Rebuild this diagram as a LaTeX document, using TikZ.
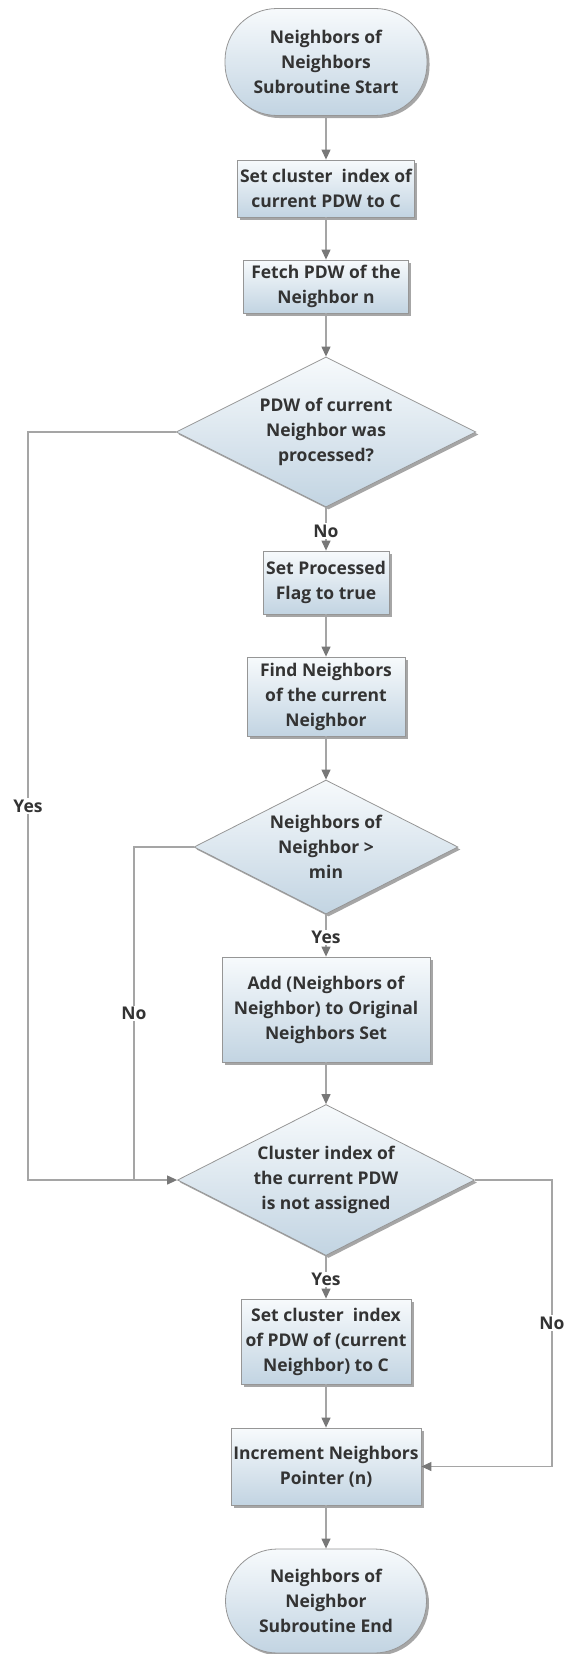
\documentclass[tikz,border=0pt]{standalone}
\usepackage{fontspec}
\setmainfont{Open Sans}
\usetikzlibrary{shapes.geometric,shadows,arrows.meta}
\definecolor{boxtop}{RGB}{247,250,252}
\definecolor{boxbot}{RGB}{194,212,226}
\definecolor{boxline}{RGB}{150,150,150}
\definecolor{flowline}{RGB}{165,165,165}
\definecolor{tipgray}{RGB}{120,120,120}
\definecolor{txt}{RGB}{51,51,51}

\begin{document}
\begin{tikzpicture}[x=1pt,y=-1pt,
    font=\fontsize{17.5}{25}\selectfont\bfseries,
    base/.style={draw=boxline, line width=0.8pt, top color=boxtop, bottom color=boxbot,
      text=txt, align=center, inner sep=0pt,
      drop shadow={shadow xshift=2.5pt, shadow yshift=-2.5pt, opacity=0.35, fill=black}},
    process/.style={base, rectangle},
    terminal/.style={base, rectangle, rounded corners=52pt},
    decision/.style={base, diamond, aspect=2},
    line/.style={draw=flowline, line width=1.2pt},
    flow/.style={line, -{Triangle[length=10pt,width=9pt,color=tipgray]}},
    lbl/.style={fill=white, text=txt, inner sep=1.5pt}]
   \useasboundingbox (0,0) rectangle (566,1654);

   \node[terminal, minimum width=202pt, minimum height=107pt] (start) at (326,62) {Neighbors of\\Neighbors\\Subroutine Start};
   \node[process, minimum width=177pt, minimum height=57pt] (setidx) at (326,188.5) {Set cluster\ \ index of\\current PDW to C};
   \node[process, minimum width=165pt, minimum height=53pt] (fetch) at (326,286.5) {Fetch PDW of the\\Neighbor n};
   \node[decision, minimum width=300pt, minimum height=150pt] (done) at (326,432) {PDW of current\\Neighbor was\\processed?};
   \node[process, minimum width=126pt, minimum height=63pt] (flag) at (326,582.5) {Set Processed\\Flag to true};
   \node[process, minimum width=158pt, minimum height=79pt] (find) at (326,696.5) {Find Neighbors\\of the current\\Neighbor};
   \node[decision, minimum width=264pt, minimum height=134pt] (enough) at (326,847) {Neighbors of\\Neighbor >\\min};
   \node[process, minimum width=208pt, minimum height=105pt] (add) at (326,1009.5) {Add (Neighbors of\\Neighbor) to Original\\Neighbors Set};
   \node[decision, minimum width=297pt, minimum height=151pt] (free) at (326,1180) {Cluster index of\\the current PDW\\is not assigned};
   \node[process, minimum width=170pt, minimum height=85pt] (assign) at (326,1341.5) {Set cluster\ \ index\\of PDW of (current\\Neighbor) to C};
   \node[process, minimum width=190pt, minimum height=77pt] (incr) at (326,1466.5) {Increment Neighbors\\Pointer (n)};
   \node[terminal, minimum width=201pt, minimum height=104pt] (stop) at (326,1601) {Neighbors of\\Neighbor\\Subroutine End};

   \coordinate (yestop) at (28,432);
   \coordinate (yesbot) at (28,1180);
   \coordinate (notop) at (134,847);
   \coordinate (nobot) at (134,1180);
   \coordinate (righttop) at (552,1180);
   \coordinate (rightbot) at (552,1466.5);

   \draw[flow] (start) to (setidx);
   \draw[flow] (setidx) to (fetch);
   \draw[flow] (fetch) to (done);
   \draw[flow] (done) to node[lbl, pos=0.55] {No} (flag);
   \draw[flow] (flag) to (find);
   \draw[flow] (find) to (enough);
   \draw[flow] (enough) to node[lbl, pos=0.55] {Yes} (add);
   \draw[flow] (add) to (free);
   \draw[flow] (free) to node[lbl, pos=0.55] {Yes} (assign);
   \draw[flow] (assign) to (incr);
   \draw[flow] (incr) to (stop);

   \draw[flow] (done.west) -- (yestop) -- node[lbl] {Yes} (yesbot) -- (free.west);
   \draw[line] (enough.west) -- (notop) -- node[lbl] {No} (nobot);
   \draw[flow] (free.east) -- (righttop) -- node[lbl] {No} (rightbot) -- (incr.east);
 \end{tikzpicture}
\end{document}
